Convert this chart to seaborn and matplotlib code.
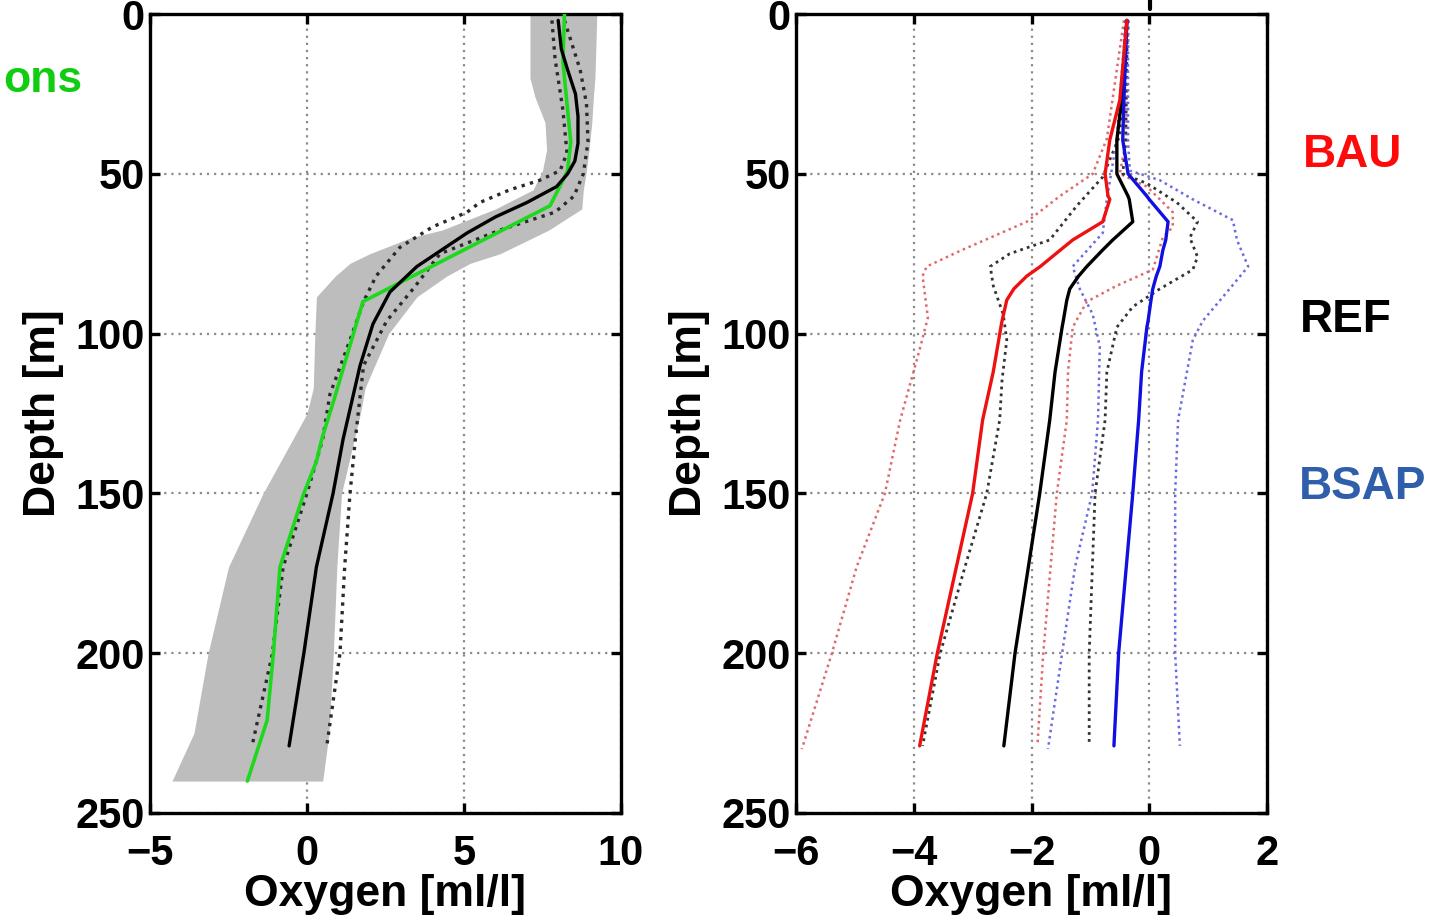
import numpy as np
import pandas as pd
import matplotlib
matplotlib.use("Agg")
import matplotlib.pyplot as plt
import seaborn as sns
from matplotlib.lines import Line2D

# ---------------- data: left panel (observations vs model) ----------------
depth_model = [2, 11, 17.5, 25, 32, 40.5, 46, 50, 54, 59, 63.5, 68.5, 79, 87, 97, 110, 133, 150, 173, 200, 229]
model_mean = [8.0, 8.1, 8.3, 8.55, 8.63, 8.63, 8.53, 8.3, 7.95, 7.0, 6.0, 5.1, 3.5, 2.64, 2.1, 1.69, 1.15, 0.83, 0.3, -0.1, -0.57]

depth_lo = [2, 14, 30, 43.5, 49, 52, 55, 59, 62, 66.6, 73, 82, 90, 102, 119, 133, 150, 173, 200, 229]
model_lo = [7.8, 7.9, 8.15, 8.28, 8.06, 7.42, 6.46, 5.5, 5.1, 4.0, 2.96, 2.2, 1.8, 1.37, 0.73, 0.5, 0.0, -0.76, -1.1, -1.75]

depth_hi = [2, 17.5, 28, 40, 50, 57, 62, 67.6, 75, 86, 96, 110, 133, 150, 173, 200, 229]
model_hi = [8.2, 8.7, 8.9, 8.95, 8.8, 8.5, 7.9, 6.15, 4.24, 3.38, 2.54, 1.8, 1.54, 1.37, 1.2, 1.05, 0.63]

depth_obs = [0, 15, 30, 40, 49, 53, 60, 90, 121, 133, 140, 150, 173, 200, 221, 240]
obs_mean = [8.2, 8.15, 8.3, 8.4, 8.3, 8.1, 7.74, 1.78, 0.85, 0.47, 0.3, -0.1, -0.86, -1.07, -1.27, -1.9]

depth_band = [0, 20, 26, 34, 42.5, 49, 55, 61, 67.6, 70, 75, 78, 82, 88.5, 100, 117, 125, 150, 173, 200, 225, 240]
band_lo = [7.1, 7.1, 7.26, 7.58, 7.63, 7.5, 7.2, 6.0, 4.3, 3.3, 2.0, 1.37, 0.9, 0.3, 0.25, 0.2, 0.0, -1.4, -2.5, -3.15, -3.6, -4.3]
band_hi = [9.23, 9.17, 9.12, 9.07, 8.98, 8.9, 8.8, 8.75, 7.7, 7.2, 6.15, 5.2, 4.45, 3.5, 2.6, 1.85, 1.7, 1.1, 0.95, 0.84, 0.7, 0.5]

# ---------------- data: right panel (scenarios) ----------------
depth_scen = [2, 27, 39.4, 50, 57, 58, 65, 70.7, 74, 79, 82, 86, 89.5, 96, 98, 112, 127, 150, 200, 229]
bau_mean = [-0.38, -0.5, -0.67, -0.75, -0.7, -0.67, -0.79, -1.3, -1.52, -1.85, -2.08, -2.3, -2.42, -2.5, -2.52, -2.65, -2.83, -3.0, -3.6, -3.9]
ref_mean = [-0.38, -0.47, -0.55, -0.55, -0.36, -0.34, -0.28, -0.62, -0.8, -1.06, -1.2, -1.35, -1.4, -1.46, -1.48, -1.6, -1.69, -1.86, -2.28, -2.47]
bsap_mean = [-0.38, -0.43, -0.45, -0.36, -0.04, 0.0, 0.32, 0.28, 0.23, 0.18, 0.12, 0.06, 0.03, -0.02, -0.04, -0.13, -0.18, -0.28, -0.52, -0.6]

depth_bau_lo = [2, 39, 50, 57, 65, 74, 79, 82, 95, 105, 127, 150, 173, 200, 230]
bau_lo = [-0.43, -0.72, -0.96, -1.52, -2.08, -3.2, -3.78, -3.85, -3.76, -3.9, -4.23, -4.49, -4.97, -5.39, -5.9]
depth_bau_hi = [2, 40, 50, 54, 62, 66.6, 70, 80, 85, 90, 98, 112, 127, 150, 200, 229]
bau_hi = [-0.35, -0.4, -0.5, -0.04, 0.4, 0.4, 0.23, 0.06, -0.55, -1.06, -1.3, -1.38, -1.4, -1.57, -1.8, -1.9]

depth_ref_lo = [2, 38, 51, 60, 70.7, 75, 79, 85, 94, 102, 114.5, 127, 150, 173, 200, 229]
ref_lo = [-0.4, -0.5, -0.79, -1.23, -1.69, -2.37, -2.7, -2.65, -2.48, -2.42, -2.5, -2.54, -2.76, -3.13, -3.55, -3.85]
depth_ref_hi = [2, 40, 50, 53, 59, 65, 70, 76, 80, 86, 91.6, 98, 112, 127, 150, 200, 229]
ref_hi = [-0.37, -0.4, -0.45, -0.04, 0.47, 0.82, 0.69, 0.82, 0.74, 0.18, -0.28, -0.55, -0.72, -0.75, -0.92, -1.02, -1.02]

depth_bsap_lo = [2, 39, 58, 68.5, 79, 86, 94, 104, 127, 150, 173, 200, 230]
bsap_lo = [-0.4, -0.55, -0.72, -0.79, -1.3, -1.18, -0.96, -0.84, -0.87, -0.97, -1.26, -1.48, -1.72]
depth_bsap_hi = [2, 40, 49, 52, 58, 64.5, 70.7, 79, 87, 96, 102, 112, 127, 150, 200, 229]
bsap_hi = [-0.36, -0.36, -0.33, 0.18, 0.74, 1.42, 1.49, 1.68, 1.32, 0.91, 0.74, 0.64, 0.49, 0.44, 0.44, 0.52]

left_xticks = [-5, 0, 5, 10]
right_xticks = [-6, -4, -2, 0, 2]
yticks = [0, 50, 100, 150, 200, 250]
scenario_names = ["BAU", "REF", "BSAP"]

# ---------------- style ----------------
sns.set_theme(style="white")
plt.rcParams["font.family"] = ["Liberation Sans", "DejaVu Sans"]
plt.rcParams["font.weight"] = "bold"
plt.rcParams["axes.labelweight"] = "bold"
plt.rcParams["text.color"] = "black"
plt.rcParams["axes.labelcolor"] = "black"
plt.rcParams["xtick.color"] = "black"
plt.rcParams["ytick.color"] = "black"

W, H = 1439, 916
fig = plt.figure(figsize=(W / 100, H / 100), dpi=100)
ax1 = fig.add_axes([150 / W, 1 - 813 / H, 471 / W, 799 / H])
ax2 = fig.add_axes([796 / W, 1 - 813 / H, 471 / W, 799 / H])

GREEN = "#1ed81e"
RED = "#ee1111"
BLUE = "#1010e0"


def line(ax, xs, ys, color, lw, ls="-", z=3):
    df = pd.DataFrame({"x": xs, "y": ys})
    sns.lineplot(data=df, x="x", y="y", sort=False, estimator=None, color=color,
                 linewidth=lw, linestyle=ls, ax=ax, zorder=z)


# left panel
ax1.fill_betweenx(depth_band, band_lo, band_hi, color="#bdbdbd", lw=0, zorder=1)
line(ax1, model_lo, depth_lo, "#2a2a2a", 2.4, (0, (1, 1.6)))
line(ax1, model_hi, depth_hi, "#2a2a2a", 2.4, (0, (1, 1.6)))
line(ax1, obs_mean, depth_obs, GREEN, 2.6)
line(ax1, model_mean, depth_model, "black", 2.4)

# right panel
dot = (0, (1, 1.5))
line(ax2, bau_lo, depth_bau_lo, "#e06a6a", 1.8, dot)
line(ax2, bau_hi, depth_bau_hi, "#e06a6a", 1.8, dot)
line(ax2, ref_lo, depth_ref_lo, "#333333", 2.0, dot)
line(ax2, ref_hi, depth_ref_hi, "#333333", 2.0, dot)
line(ax2, bsap_lo, depth_bsap_lo, "#6b6be0", 1.8, dot)
line(ax2, bsap_hi, depth_bsap_hi, "#6b6be0", 1.8, dot)
line(ax2, ref_mean, depth_scen, "black", 2.4)
line(ax2, bsap_mean, depth_scen, BLUE, 2.4)
line(ax2, bau_mean, depth_scen, RED, 2.4)

for ax, xt in ((ax1, left_xticks), (ax2, right_xticks)):
    ax.set_xlim(xt[0], xt[-1])
    ax.set_ylim(250, 0)
    ax.set_xticks(xt)
    ax.set_yticks(yticks)
    ax.set_xticklabels([str(v).replace("-", "\u2212") for v in xt])
    ax.set_yticklabels([str(v) for v in yticks])
    ax.grid(True, color="#8a8a8a", linestyle=(0, (1, 2.2)), linewidth=1.6, zorder=0)
    ax.set_axisbelow(True)
    for s in ax.spines.values():
        s.set_color("black")
        s.set_linewidth(2.4)
        s.set_visible(True)
    ax.tick_params(axis="both", direction="in", length=7, width=2.4, colors="black",
                   top=True, right=True, bottom=True, left=True, labelsize=30)
    ax.tick_params(axis="x", pad=15)
    ax.tick_params(axis="y", pad=4)
    for lab in ax.get_xticklabels() + ax.get_yticklabels():
        lab.set_fontweight("bold")
    ax.set_xlabel("Oxygen [ml/l]", fontsize=32, fontweight="bold", labelpad=0)
    ax.set_ylabel("Depth [m]", fontsize=32, fontweight="bold", labelpad=8)

# annotations
fig.text(82 / W, 1 - 80 / H, "ons", color="#11cc11", fontsize=32, fontweight="bold",
         ha="right", va="center")
colors_txt = ["#ff0a0a", "black", "#2f5faa"]
ypos = [155, 320, 487]
xpos = [1353, 1346, 1363]
for name, c, yy, xx in zip(scenario_names, colors_txt, ypos, xpos):
    fig.text(xx / W, 1 - yy / H, name, color=c, fontsize=33, fontweight="bold",
             ha="center", va="center")
fig.add_artist(Line2D([1150 / W, 1150 / W], [1.0, 1 - 9 / H], color="black", lw=3))

fig.savefig("out.png", dpi=100)
